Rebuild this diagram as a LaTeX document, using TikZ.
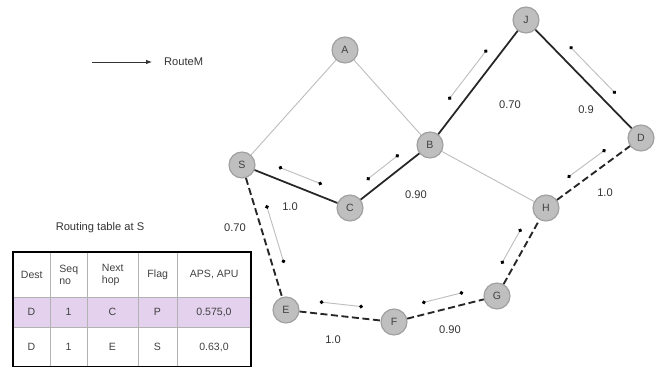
\documentclass[tikz,border=0pt]{standalone}
\usepackage{fontspec}
\setmainfont{Liberation Sans}
\usetikzlibrary{calc,arrows.meta}

% marker of a RouteM message, drawn beside the link #1--#2 at offset #3
\newcommand\routem[3]{%
  \draw[route] ($(#1)!0.30!(#2)!#3!90:(#2)$) -- ($(#2)!0.30!(#1)!#3!-90:(#1)$);}

\begin{document}
\begin{tikzpicture}[x=0.03cm, y=-0.03cm,
  mnode/.style={draw=gray!75, line width=1pt, circle, fill=gray!50,
                minimum size=0.78cm, inner sep=0pt, text=black!75,
                font=\fontsize{9}{10}\selectfont},
  weak/.style={draw=gray!50, line width=0.8pt},
  strong/.style={draw=black!85, line width=1.5pt},
  alt/.style={draw=black!85, line width=1.6pt, dash pattern=on 6pt off 3pt},
  route/.style={draw=gray!50, line width=0.8pt,
                {Circle[black,length=3.2pt]}-{Circle[black,length=3.2pt]}},
  wlbl/.style={font=\fontsize{9.5}{11}\selectfont, text=black!80},
  hcell/.style={draw=gray!60, rectangle, inner sep=2pt, align=left,
                anchor=north west, font=\fontsize{9}{10}\selectfont, text=black!75},
  tcell/.style={draw=gray!60, rectangle, inner sep=0pt,
                font=\fontsize{9}{10}\selectfont, text=black!75},
]
\useasboundingbox (0,0) rectangle (658,367);

% legend
\coordinate (lgA) at (92,62);
\coordinate (lgB) at (152,62);
\draw[black!80, line width=0.7pt, -{Latex[length=5pt]}] (lgA) -- (lgB);
\node[wlbl, anchor=west] (lgtxt) at (160,62) {RouteM};

% nodes
\node[mnode] (A) at (345,50) {A};
\node[mnode] (S) at (242,165) {S};
\node[mnode] (C) at (350,208) {C};
\node[mnode] (B) at (430,145) {B};
\node[mnode] (J) at (526,20) {J};
\node[mnode] (D) at (641,138) {D};
\node[mnode] (H) at (546,208) {H};
\node[mnode] (G) at (497,296) {G};
\node[mnode] (F) at (394,322) {F};
\node[mnode] (E) at (286,310) {E};

% links
\draw[weak] (S) -- (A);
\draw[weak] (A) -- (B);
\draw[weak] (B) -- (H);
\draw[strong] (S) -- (C);
\draw[strong] (C) -- (B);
\draw[strong] (B) -- (J);
\draw[strong] (J) -- (D);
\draw[alt] (S) -- (E);
\draw[alt] (E) -- (F);
\draw[alt] (F) -- (G);
\draw[alt] (G) -- (H);
\draw[alt] (H) -- (D);

% RouteM markers
\routem{S}{C}{10pt}
\routem{C}{B}{10pt}
\routem{B}{J}{11pt}
\routem{J}{D}{11pt}
\routem{H}{D}{10pt}
\routem{G}{H}{10pt}
\routem{F}{G}{10pt}
\routem{E}{F}{10pt}
\routem{S}{E}{10pt}

% link weights
\node[wlbl] (wSC) at (290,207) {1.0};
\node[wlbl] (wCB) at (416,195) {0.90};
\node[wlbl] (wBJ) at (510,105) {0.70};
\node[wlbl] (wJD) at (586,110) {0.9};
\node[wlbl] (wHD) at (605,193) {1.0};
\node[wlbl] (wSE) at (235,228) {0.70};
\node[wlbl] (wEF) at (333,340) {1.0};
\node[wlbl] (wFG) at (450,330) {0.90};

% routing table
\node[wlbl] (ttl) at (100,228) {Routing table at S};
\node[hcell, minimum width=1.11cm, minimum height=1.35cm] (h1) at (13,252) {Dest};
\node[hcell, minimum width=1.11cm, minimum height=1.35cm] (h2) at (50,252) {Seq\\no};
\node[hcell, minimum width=1.53cm, minimum height=1.35cm] (h3) at (87,252) {Next\\hop};
\node[hcell, minimum width=1.17cm, minimum height=1.35cm] (h4) at (138,252) {Flag};
\node[hcell, minimum width=2.22cm, minimum height=1.35cm, align=center] (h5) at (177,252) {APS, APU};
\fill[blue!20!violet!18] (13,297) rectangle (251,327);
\node[tcell, minimum width=1.11cm, minimum height=0.9cm] (r11) at (31.5,312) {D};
\node[tcell, minimum width=1.11cm, minimum height=0.9cm] (r12) at (68.5,312) {1};
\node[tcell, minimum width=1.53cm, minimum height=0.9cm] (r13) at (112.5,312) {C};
\node[tcell, minimum width=1.17cm, minimum height=0.9cm] (r14) at (157.5,312) {P};
\node[tcell, minimum width=2.22cm, minimum height=0.9cm] (r15) at (214,312) {0.575,0};
\node[tcell, minimum width=1.11cm, minimum height=1.2cm] (r21) at (31.5,347) {D};
\node[tcell, minimum width=1.11cm, minimum height=1.2cm] (r22) at (68.5,347) {1};
\node[tcell, minimum width=1.53cm, minimum height=1.2cm] (r23) at (112.5,347) {E};
\node[tcell, minimum width=1.17cm, minimum height=1.2cm] (r24) at (157.5,347) {S};
\node[tcell, minimum width=2.22cm, minimum height=1.2cm] (r25) at (214,347) {0.63,0};
\draw[black, line width=1.3pt] (h1.north west) rectangle (r25.south east);
\end{tikzpicture}
\end{document}
